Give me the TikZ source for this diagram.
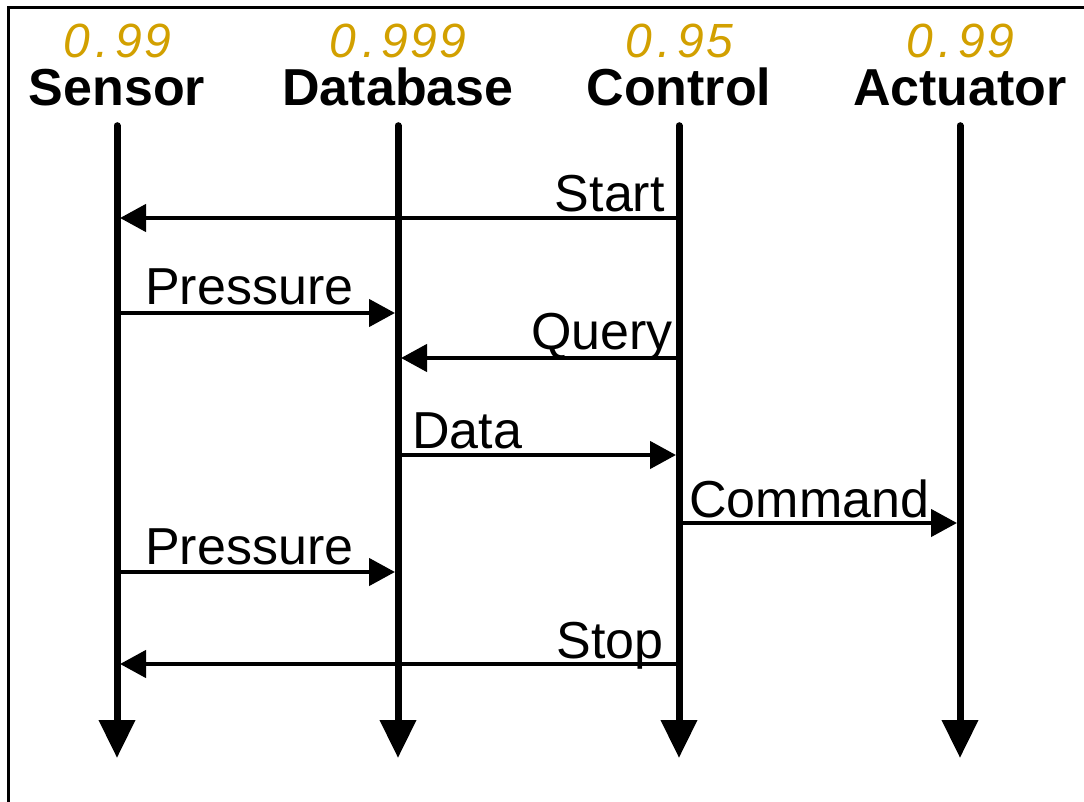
\documentclass[tikz,border=0pt]{standalone}
\usepackage{fontspec}
\setmainfont{Liberation Sans}
\newfontfamily\probfont[LetterSpace=5]{Liberation Sans}
\usetikzlibrary{arrows.meta}
\definecolor{probgold}{RGB}{210, 160, 0}
\tikzstyle{actor} = [font=\fontsize{52}{60}\selectfont\bfseries, inner sep=0pt,
    text height=38pt, text depth=0pt]
\tikzstyle{prob} = [font=\fontsize{48}{54}\probfont\itshape, text=probgold,
    inner sep=0pt, text height=34pt, text depth=0pt]
\tikzstyle{lifeline} = [draw, line width=7pt, line cap=round, shorten <=19.5pt,
    -{Triangle[length=38pt, width=35pt]}]
\tikzstyle{msg} = [draw, line width=4.5pt, shorten >=3pt,
    -{Triangle[length=26pt, width=27pt]}]
\tikzstyle{lbl} = [font=\fontsize{52}{60}\selectfont, inner sep=0pt]

\begin{document}
\begin{tikzpicture}[x=1pt, y=-1pt, node distance=281pt]
  \useasboundingbox (0,0) rectangle (1084,802);
  \draw [line width=3pt] (8.5,7.5) rectangle (1100,820);
  \node [actor] at (117,87) (sensor) {Sensor};
  \node [actor, right of=sensor] (database) {Database};
  \node [actor, right of=database] (control) {Control};
  \node [actor, right of=control] (actuator) {Actuator};
  \node [prob, above of=sensor, node distance=46pt] (p_sensor) {0\kern6pt.\kern6pt99};
  \node [prob, above of=database, node distance=46pt] (p_database) {0\kern6pt.\kern6pt999};
  \node [prob, above of=control, node distance=46pt] (p_control) {0\kern6pt.\kern6pt95};
  \node [prob, above of=actuator, node distance=46pt] (p_actuator) {0\kern6pt.\kern6pt99};
  \coordinate [below of=sensor, node distance=671pt] (sensor_end);
  \coordinate [below of=database, node distance=671pt] (database_end);
  \coordinate [below of=control, node distance=671pt] (control_end);
  \coordinate [below of=actuator, node distance=671pt] (actuator_end);
  \path [lifeline] (sensor) -- (sensor_end);
  \path [lifeline] (database) -- (database_end);
  \path [lifeline] (control) -- (control_end);
  \path [lifeline] (actuator) -- (actuator_end);
  % messages, top to bottom
  \path [msg] (control |- 0,218) -- node[lbl, pos=0, anchor=base east, xshift=-12pt, yshift=6pt] {Start} (sensor |- 0,218);
  \path [msg] (sensor |- 0,313) -- node[lbl, pos=0, anchor=base west, xshift=26pt, yshift=8pt] {Pressure} (database |- 0,313);
  \path [msg] (control |- 0,358) -- node[lbl, pos=0, anchor=base east, xshift=-4pt, yshift=9pt] {Query} (database |- 0,358);
  \path [msg] (database |- 0,455) -- node[lbl, pos=0, anchor=base west, xshift=12pt, yshift=7pt] {Data} (control |- 0,455);
  \path [msg] (control |- 0,523) -- node[lbl, pos=0, anchor=base west, xshift=8pt, yshift=6pt] {Command} (actuator |- 0,523);
  \path [msg] (sensor |- 0,572) -- node[lbl, pos=0, anchor=base west, xshift=26pt, yshift=8pt] {Pressure} (database |- 0,572);
  \path [msg] (control |- 0,664) -- node[lbl, pos=0, anchor=base east, xshift=-13pt, yshift=6pt] {Stop} (sensor |- 0,664);
\end{tikzpicture}
\end{document}
